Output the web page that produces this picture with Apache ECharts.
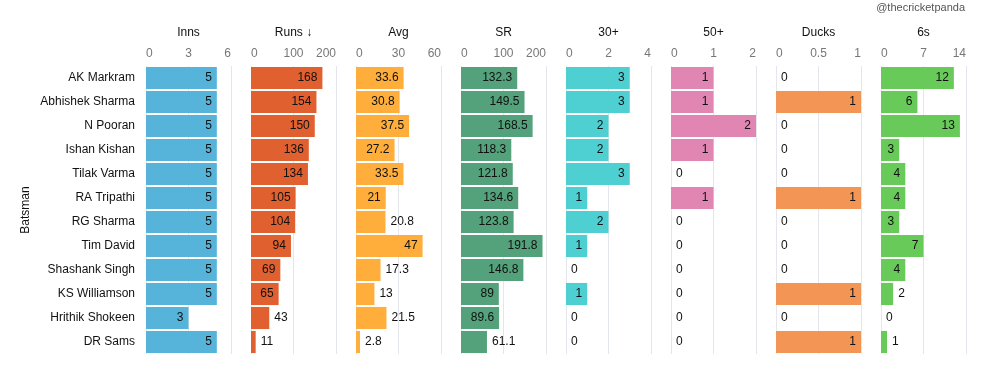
<!DOCTYPE html>
<html>
<head>
<meta charset="utf-8">
<script src="https://cdn.jsdelivr.net/npm/echarts@6/dist/echarts.min.js"></script>
<style>
html,body{margin:0;padding:0;background:#fff;}
#chart{width:997px;height:378px;}
</style>
</head>
<body>
<div id="chart"></div>
<script>
const batsmen = ["AK Markram","Abhishek Sharma","N Pooran","Ishan Kishan","Tilak Varma","RA Tripathi","RG Sharma","Tim David","Shashank Singh","KS Williamson","Hrithik Shokeen","DR Sams"];
const inns = [5,5,5,5,5,5,5,5,5,5,3,5];
const runs = [168,154,150,136,134,105,104,94,69,65,43,11];
const avg = [33.6,30.8,37.5,27.2,33.5,21,20.8,47,17.3,13,21.5,2.8];
const sr = [132.3,149.5,168.5,118.3,121.8,134.6,123.8,191.8,146.8,89,89.6,61.1];
const thirties = [3,3,2,2,3,1,2,1,0,1,0,0];
const fifties = [1,1,2,1,0,1,0,0,0,0,0,0];
const ducks = [0,1,0,0,0,1,0,0,0,1,0,1];
const sixes = [12,6,13,3,4,4,3,7,4,2,0,1];

const panelTitles = ["Inns","Runs \u2193","Avg","SR","30+","50+","Ducks","6s"];
const panelData = [inns,runs,avg,sr,thirties,fifties,ducks,sixes];
const axisMax = [6,200,60,200,4,2,1,14];
const axisInterval = [3,100,30,100,2,1,0.5,7];
const colors = ["#56B4DA","#E1602F","#FFAD3B","#53A27B","#4ECFD2","#E186B3","#F39655","#68CB59"];

const FONT = '"Liberation Sans", Arial, sans-serif';
const gLeft = 146, gWidth = 85, gStep = 105, gTop = 66, gHeight = 288;

const cv = document.createElement('canvas').getContext('2d');
cv.font = '12px ' + FONT;
function tw(s){ return cv.measureText(String(s)).width; }

const chart = echarts.init(document.getElementById('chart'), null, {renderer:'canvas'});
const grids = [], xAxes = [], yAxes = [], series = [];
panelData.forEach((arr, i) => {
  grids.push({left: gLeft + gStep*i, width: gWidth, top: gTop, height: gHeight});
  xAxes.push({
    type: 'value', gridIndex: i, position: 'top', min: 0, max: axisMax[i], interval: axisInterval[i],
    name: panelTitles[i], nameLocation: 'middle', nameGap: 27,
    nameTextStyle: {color: '#111', fontSize: 12, fontFamily: FONT},
    axisLine: {show: false}, axisTick: {show: false},
    axisLabel: {color: '#777', fontSize: 12, fontFamily: FONT, margin: 6, alignMinLabel: 'left', alignMaxLabel: 'right'},
    splitLine: {show: true, lineStyle: {color: '#e3e7ec', width: 1}}
  });
  yAxes.push({
    type: 'category', gridIndex: i, data: batsmen, inverse: true,
    axisLine: {show: false}, axisTick: {show: false},
    axisLabel: {show: i === 0, color: '#111', fontSize: 12, fontFamily: FONT, margin: 11},
    name: i === 0 ? 'Batsman' : '', nameLocation: 'middle', nameGap: 114, nameRotate: 90,
    nameTextStyle: {color: '#111', fontSize: 12, fontFamily: FONT},
    splitLine: {show: false}
  });
  const data = arr.map(v => {
    const px = v / axisMax[i] * gWidth;
    const inside = px >= tw(v) + 8;
    return {value: v, label: {position: inside ? 'insideRight' : 'right', distance: 5}};
  });
  series.push({
    type: 'bar', xAxisIndex: i, yAxisIndex: i, data: data,
    barCategoryGap: '8%',
    itemStyle: {color: colors[i]},
    label: {show: true, color: '#111', fontSize: 12, fontFamily: FONT, formatter: p => String(p.value)},
    silent: true, animation: false
  });
});

chart.setOption({
  animation: false,
  backgroundColor: '#fff',
  textStyle: {fontFamily: FONT},
  title: {text: '@thecricketpanda', right: 32, top: 2, padding: 0, textStyle: {color: '#555', fontSize: 11, fontWeight: 'normal', fontFamily: FONT}},
  grid: grids, xAxis: xAxes, yAxis: yAxes, series: series
});
</script>
</body>
</html>
